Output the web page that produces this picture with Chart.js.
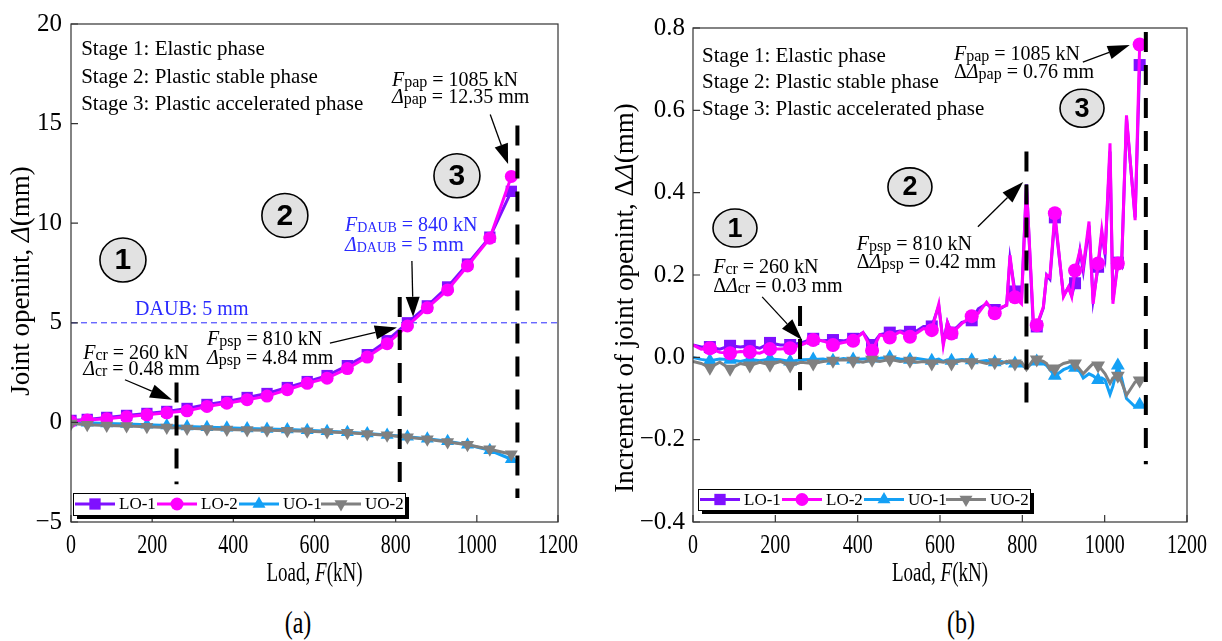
<!DOCTYPE html>
<html>
<head>
<meta charset="utf-8">
<script src="https://cdn.jsdelivr.net/npm/chart.js@4.4.0/dist/chart.umd.min.js"></script>
<style>
  body { margin: 0; background: #fff; width: 1222px; height: 641px; position: relative; overflow: hidden; font-family: "Liberation Serif", "Times New Roman", serif; }
  #boxA { position: absolute; left: 0; top: 0; width: 600px; height: 600px; }
  #boxB { position: absolute; left: 600px; top: 0; width: 622px; height: 600px; }
  .cap { position: absolute; top: 606px; font-size: 24px; width: 60px; text-align: center; transform: scaleY(1.3); transform-origin: top; }
</style>
</head>
<body>
<div id="boxA"><canvas id="chartA" width="600" height="600"></canvas></div>
<div id="boxB"><canvas id="chartB" width="622" height="600"></canvas></div>
<div class="cap" style="left:268px">(a)</div>
<div class="cap" style="left:931px">(b)</div>
<script>
const SERIF = "'Liberation Serif', 'Times New Roman', serif";
const SANS  = "'Liberation Sans', Arial, sans-serif";
const BLUE  = "#2a2aff";

// ---- (a) joint opening vs load ----
const loadA = [0, 40, 88, 137, 187, 236, 286, 335, 384, 434, 483, 533, 582, 631, 681, 730, 779, 829, 878, 928, 977, 1032, 1085];
const lo1A  = [0.1, 0.15, 0.25, 0.35, 0.45, 0.55, 0.7, 0.9, 1.05, 1.25, 1.45, 1.75, 2.05, 2.35, 2.85, 3.4, 4.1, 5.0, 5.85, 6.8, 7.95, 9.3, 11.6];
const lo2A  = [0.05, 0.12, 0.18, 0.28, 0.38, 0.48, 0.58, 0.8, 0.96, 1.14, 1.32, 1.64, 1.96, 2.22, 2.7, 3.28, 3.95, 4.84, 5.75, 6.65, 7.85, 9.25, 12.35];
const uo1A  = [0.0, -0.02, -0.05, -0.08, -0.12, -0.16, -0.2, -0.24, -0.27, -0.3, -0.33, -0.36, -0.4, -0.44, -0.5, -0.56, -0.63, -0.72, -0.82, -0.95, -1.12, -1.4, -1.85];
const uo2A  = [-0.05, -0.12, -0.15, -0.18, -0.22, -0.26, -0.3, -0.33, -0.36, -0.38, -0.4, -0.42, -0.45, -0.48, -0.52, -0.58, -0.65, -0.74, -0.85, -0.98, -1.12, -1.35, -1.6];
const DAUB = 5;

// ---- (b) increment of joint opening vs load ----
const loadB = [0, 20, 41, 65, 90, 115, 138, 162, 187, 212, 236, 262, 292, 316, 340, 365, 389, 413, 435, 454,
  478, 503, 527, 545, 560, 580, 597, 608, 618, 628, 653, 677, 693, 713, 733, 750, 762, 770, 782, 798,
  810, 827, 835, 851, 859, 867, 879, 900, 912, 920, 928, 940, 948, 962, 972, 984, 993, 1001, 1013, 1020,
  1032, 1041, 1053, 1074, 1085];
const lo1B = [0.03, 0.025, 0.025, 0.02, 0.028, 0.025, 0.028, 0.022, 0.035, 0.03, 0.03, 0.035, 0.045, 0.04, 0.042, 0.04, 0.045, 0.06, 0.03, 0.055,
  0.06, 0.064, 0.062, 0.065, 0.075, 0.075, 0.125, 0.035, 0.085, 0.06, 0.085, 0.09, 0.118, 0.13, 0.115, 0.12, 0.128, 0.24, 0.16, 0.14,
  0.42, 0.07, 0.075, 0.12, 0.2, 0.19, 0.34, 0.15, 0.17, 0.15, 0.18, 0.26, 0.21, 0.32, 0.14, 0.22, 0.3, 0.25, 0.5, 0.14,
  0.23, 0.22, 0.58, 0.34, 0.71];
const lo2B = [0.03, 0.02, 0.022, 0.012, 0.01, 0.014, 0.013, 0.01, 0.02, 0.02, 0.022, 0.03, 0.042, 0.04, 0.03, 0.036, 0.04, 0.06, 0.016, 0.055,
  0.048, 0.062, 0.05, 0.06, 0.07, 0.066, 0.13, 0.029, 0.085, 0.058, 0.082, 0.1, 0.107, 0.134, 0.107, 0.122, 0.126, 0.248, 0.146, 0.13,
  0.418, 0.082, 0.078, 0.122, 0.2, 0.195, 0.35, 0.147, 0.171, 0.147, 0.211, 0.26, 0.22, 0.33, 0.13, 0.228, 0.31, 0.25, 0.52, 0.13,
  0.228, 0.22, 0.588, 0.333, 0.76];
const uo1B = [0.0, -0.005, -0.008, -0.004, -0.006, -0.01, -0.005, -0.008, -0.004, -0.006, -0.01, -0.006, -0.005, -0.004, -0.008, -0.003, -0.005, -0.004, -0.003, -0.002,
  0.0, -0.004, -0.006, -0.003, -0.005, -0.008, -0.004, -0.01, -0.006, -0.008, -0.005, -0.007, -0.01, -0.008, -0.012, -0.01, -0.014, -0.012, -0.015, -0.02,
  -0.025, -0.012, -0.01, -0.015, -0.02, -0.03, -0.045, -0.03, -0.025, -0.02, -0.025, -0.035, -0.05, -0.04, -0.045, -0.055, -0.05, -0.055, -0.09, -0.07,
  -0.02, -0.05, -0.1, -0.12, -0.115];
const uo2B = [-0.01, -0.015, -0.025, -0.012, -0.028, -0.015, -0.02, -0.012, -0.018, -0.01, -0.02, -0.012, -0.015, -0.01, -0.008, -0.006, -0.008, -0.012, -0.006, -0.01,
  -0.005, -0.01, -0.008, -0.012, -0.01, -0.015, -0.01, -0.012, -0.01, -0.015, -0.008, -0.012, -0.01, -0.015, -0.012, -0.015, -0.01, -0.012, -0.015, -0.012,
  -0.03, -0.005, -0.005, -0.01, -0.015, -0.03, -0.027, -0.015, -0.012, -0.01, -0.015, -0.03, -0.04, -0.025, -0.015, -0.02, -0.03, -0.04, -0.063, -0.05,
  -0.045, -0.06, -0.092, -0.06, -0.056];
// loads where (b) carries a marker
const markB = [41, 90, 138, 187, 236, 292, 340, 389, 435, 478, 527, 580, 628, 677, 733, 782, 835, 879, 928, 984, 1032, 1085];

const seriesNames = ["LO-1", "LO-2", "UO-1", "UO-2"];

const xAxis  = { min: 0, max: 1200, step: 200 };
const yAxisA = { min: -5, max: 20, step: 5 };
const yAxisB = { min: -0.4, max: 0.8, step: 0.2 };

const LOOK = [
  { color: "#7f10ff", style: "rect",     rot: 0,   r: 8,   order: 3 },
  { color: "#ff00ff", style: "circle",   rot: 0,   r: 6.5, order: 1 },
  { color: "#14a0f5", style: "triangle", rot: 0,   r: 7.5, order: 2 },
  { color: "#808080", style: "triangle", rot: 180, r: 7.5, order: 0 },
];

function makeSets(load, cols, marks) {
  return cols.map((col, i) => {
    const s = LOOK[i];
    return {
      label: seriesNames[i],
      data: load.map((x, k) => ({ x, y: col[k] })),
      showLine: true,
      borderColor: s.color,
      backgroundColor: s.color,
      borderWidth: 3,
      tension: 0,
      order: s.order,
      pointStyle: s.style,
      pointRotation: s.rot,
      pointBorderWidth: 0,
      pointBackgroundColor: s.color,
      pointRadius: marks ? (ctx => marks.includes(ctx.raw.x) ? s.r + 0.5 : 0) : s.r,
    };
  });
}

// ---------- drawing helpers ----------
function fontOf(kind, size) {
  if (kind === "i") return `italic ${size}px ${SERIF}`;
  if (kind === "s") return `${Math.round(size * 0.8)}px ${SERIF}`;
  if (kind === "c") return `${Math.round(size * 0.7)}px ${SERIF}`;
  return `${size}px ${SERIF}`;
}
function richWidth(ctx, parts, size) {
  let w = 0;
  for (const [t, k] of parts) { ctx.font = fontOf(k, size); w += ctx.measureText(t).width; }
  return w;
}
// draws mixed-style text; sy stretches glyphs vertically around the baseline
function rich(ctx, x, y, parts, size, color, sy) {
  ctx.save();
  ctx.translate(x, y);
  if (sy) ctx.scale(1, sy);
  ctx.fillStyle = color || "#000";
  ctx.textBaseline = "alphabetic";
  ctx.textAlign = "left";
  let cx = 0;
  for (const [t, k] of parts) {
    ctx.font = fontOf(k, size);
    ctx.fillText(t, cx, (k === "s" || k === "c" ? 1 : 0));
    cx += ctx.measureText(t).width;
  }
  ctx.restore();
}
function arrow(ctx, x1, y1, x2, y2, head, half) {
  const a = Math.atan2(y2 - y1, x2 - x1);
  ctx.save();
  ctx.strokeStyle = "#000"; ctx.fillStyle = "#000"; ctx.lineWidth = 1.3;
  ctx.beginPath(); ctx.moveTo(x1, y1);
  ctx.lineTo(x2 - head * Math.cos(a), y2 - head * Math.sin(a)); ctx.stroke();
  ctx.translate(x2, y2); ctx.rotate(a);
  ctx.beginPath(); ctx.moveTo(0, 0); ctx.lineTo(-head, -half); ctx.lineTo(-head, half); ctx.closePath(); ctx.fill();
  ctx.restore();
}
function marker(ctx, style, x, y, r, rot) {
  ctx.beginPath();
  if (style === "circle") ctx.arc(x, y, r, 0, Math.PI * 2);
  else if (style === "rect") { const h = r * Math.SQRT1_2; ctx.rect(x - h, y - h, 2 * h, 2 * h); }
  else {
    const s = rot ? -1 : 1;
    ctx.moveTo(x, y - s * r); ctx.lineTo(x + r * 0.866, y + s * r * 0.5); ctx.lineTo(x - r * 0.866, y + s * r * 0.5); ctx.closePath();
  }
  ctx.fill();
}
function pix(chart) {
  const { x, y } = chart.scales;
  return (a, b) => [x.getPixelForValue(a), y.getPixelForValue(b)];
}
function vdash(chart, at, from, to) {
  const P = pix(chart), ctx = chart.ctx;
  const [x, y1] = P(at, from), [, y2] = P(at, to);
  ctx.save(); ctx.strokeStyle = "#000"; ctx.lineWidth = 4; ctx.setLineDash([20, 13]);
  ctx.beginPath(); ctx.moveTo(x, y1); ctx.lineTo(x, y2); ctx.stroke(); ctx.restore();
}
function circled(chart, at, val, txt, rx, ry, fs) {
  const [x, y] = pix(chart)(at, val), ctx = chart.ctx;
  ctx.save();
  ctx.beginPath(); ctx.ellipse(x, y, rx, ry, 0, 0, Math.PI * 2);
  ctx.fillStyle = "#e2e2e2"; ctx.fill();
  ctx.lineWidth = 1.6; ctx.strokeStyle = "#000"; ctx.stroke();
  ctx.fillStyle = "#000"; ctx.font = `bold ${fs}px ${SANS}`; ctx.textAlign = "center"; ctx.textBaseline = "middle";
  ctx.fillText(txt, x, y + 1);
  ctx.restore();
}
function label(chart, at, val, parts, size, color) {
  const [x, y] = pix(chart)(at, val);
  rich(chart.ctx, x, y, parts, size, color);
}
function pointer(chart, a1, v1, a2, v2, head, half) {
  const P = pix(chart);
  const [x1, y1] = P(a1, v1), [x2, y2] = P(a2, v2);
  arrow(chart.ctx, x1, y1, x2, y2, head, half);
}

// frame, inward ticks, x tick labels, axis titles and boxed legend
const framePlugin = {
  id: "frame",
  afterDraw(chart, args, opts) {
    const { ctx, chartArea: a, scales: { x, y } } = chart;
    ctx.save();
    ctx.strokeStyle = "#333"; ctx.lineWidth = 1.2;
    ctx.strokeRect(a.left, a.top, a.right - a.left, a.bottom - a.top);
    ctx.beginPath();
    y.ticks.forEach(t => { const p = y.getPixelForValue(t.value); ctx.moveTo(a.left, p); ctx.lineTo(a.left + 7, p); });
    x.ticks.forEach(t => { const p = x.getPixelForValue(t.value); ctx.moveTo(p, a.bottom); ctx.lineTo(p, a.bottom - 7); });
    ctx.stroke();
    ctx.restore();

    // x tick labels (tall, narrow glyphs like the source)
    x.ticks.forEach(t => {
      const parts = [[String(t.value), "n"]];
      const w = richWidth(ctx, parts, 20);
      rich(ctx, x.getPixelForValue(t.value) - w / 2, 553, parts, 20, "#000", 1.35);
    });

    // x title
    const xt = [["Load, ", "n"], ["F", "i"], ["(kN)", "n"]];
    const xw = richWidth(ctx, xt, 19);
    rich(ctx, (a.left + a.right) / 2 - xw / 2, 581, xt, 19, "#000", 1.45);

    // y title
    ctx.save();
    const yw = richWidth(ctx, opts.yTitle, 27);
    ctx.translate(opts.yTitleX, opts.yTitleY);
    ctx.rotate(-Math.PI / 2);
    rich(ctx, -yw / 2, 8, opts.yTitle, 27);
    ctx.restore();

    // legend
    const L = opts.legend;
    const lx = a.left + L.dx, ly = a.bottom - L.dy - L.h;
    ctx.save();
    ctx.fillStyle = "#000"; ctx.fillRect(lx + 4, ly + 4, L.w, L.h);
    ctx.fillStyle = "#fff"; ctx.fillRect(lx, ly, L.w, L.h);
    ctx.strokeStyle = "#000"; ctx.lineWidth = 1; ctx.strokeRect(lx + 0.5, ly + 0.5, L.w, L.h);
    const cy = ly + L.h / 2;
    seriesNames.forEach((name, i) => {
      const s = LOOK[i], sx = lx + 2 + i * 82;
      ctx.strokeStyle = s.color; ctx.fillStyle = s.color; ctx.lineWidth = 3;
      ctx.beginPath(); ctx.moveTo(sx, cy); ctx.lineTo(sx + 40, cy); ctx.stroke();
      marker(ctx, s.style, sx + 20, cy, s.r, s.rot);
      ctx.fillStyle = "#000"; ctx.font = `17px ${SERIF}`; ctx.textBaseline = "middle"; ctx.textAlign = "left";
      ctx.fillText(name, sx + 44, cy + 1);
    });
    ctx.restore();
  },
};

const notesA = {
  id: "notesA",
  beforeDatasetsDraw(chart) {
    const { ctx, chartArea: a, scales: { y } } = chart;
    const py = y.getPixelForValue(DAUB);
    ctx.save(); ctx.strokeStyle = BLUE; ctx.lineWidth = 1; ctx.setLineDash([6, 4]);
    ctx.beginPath(); ctx.moveTo(a.left, py); ctx.lineTo(a.right, py); ctx.stroke(); ctx.restore();
  },
  afterDatasetsDraw(chart) {
    vdash(chart, 260, 2.0, -3.1);
    vdash(chart, 810, 6.3, -3.1);
    vdash(chart, 1100, 14.9, -3.8);
    label(chart, 25, 18.44, [["Stage 1: Elastic phase", "n"]], 21);
    label(chart, 25, 17.05, [["Stage 2: Plastic stable phase", "n"]], 21);
    label(chart, 25, 15.66, [["Stage 3: Plastic accelerated phase", "n"]], 21);
    label(chart, 791, 16.9, [["F", "i"], ["pap", "s"], [" = 1085 kN", "n"]], 20);
    label(chart, 791, 16.05, [["Δ", "i"], ["pap", "s"], [" = 12.35 mm", "n"]], 20);
    pointer(chart, 1033, 15.46, 1077, 12.97, 20, 7);
    label(chart, 675, 9.59, [["F", "i"], ["DAUB", "c"], [" = 840 kN", "n"]], 20, BLUE);
    label(chart, 675, 8.6, [["Δ", "i"], ["DAUB", "c"], [" = 5 mm", "n"]], 20, BLUE);
    pointer(chart, 840, 8.1, 843, 5.3, 20, 7);
    label(chart, 158, 5.37, [["DAUB: 5 mm", "n"]], 20, BLUE);
    label(chart, 335, 3.88, [["F", "i"], ["psp", "s"], [" = 810 kN", "n"]], 20);
    label(chart, 335, 2.93, [["Δ", "i"], ["psp", "s"], [" = 4.84 mm", "n"]], 20);
    pointer(chart, 638, 3.98, 803, 4.77, 22, 7);
    label(chart, 30, 3.18, [["F", "i"], ["cr", "s"], [" = 260 kN", "n"]], 20);
    label(chart, 30, 2.39, [["Δ", "i"], ["cr", "s"], [" = 0.48 mm", "n"]], 20);
    pointer(chart, 133, 2.14, 249, 1.14, 22, 7);
    circled(chart, 128, 8.15, "1", 23, 22, 30);
    circled(chart, 527, 10.39, "2", 23, 22, 30);
    circled(chart, 951, 12.38, "3", 23, 22, 30);
  },
};

const notesB = {
  id: "notesB",
  afterDatasetsDraw(chart) {
    vdash(chart, 260, 0.125, -0.08);
    vdash(chart, 810, 0.5, -0.14);
    vdash(chart, 1100, 0.79, -0.26);
    label(chart, 22, 0.717, [["Stage 1: Elastic phase", "n"]], 21);
    label(chart, 22, 0.654, [["Stage 2: Plastic stable phase", "n"]], 21);
    label(chart, 22, 0.588, [["Stage 3: Plastic accelerated phase", "n"]], 21);
    label(chart, 634, 0.722, [["F", "i"], ["pap", "s"], [" = 1085 kN", "n"]], 20);
    label(chart, 634, 0.678, [["Δ", "n"], ["Δ", "i"], ["pap", "s"], [" = 0.76 mm", "n"]], 20);
    pointer(chart, 947, 0.717, 1061, 0.759, 22, 7);
    label(chart, 398, 0.261, [["F", "i"], ["psp", "s"], [" = 810 kN", "n"]], 20);
    label(chart, 398, 0.217, [["Δ", "n"], ["Δ", "i"], ["psp", "s"], [" = 0.42 mm", "n"]], 20);
    pointer(chart, 692, 0.317, 802, 0.426, 22, 7);
    label(chart, 49, 0.205, [["F", "i"], ["cr", "s"], [" = 260 kN", "n"]], 20);
    label(chart, 49, 0.159, [["Δ", "n"], ["Δ", "i"], ["cr", "s"], [" = 0.03 mm", "n"]], 20);
    pointer(chart, 168, 0.147, 265, 0.042, 22, 7);
    circled(chart, 102, 0.314, "1", 22, 19, 27);
    circled(chart, 527, 0.414, "2", 22, 19, 27);
    circled(chart, 945, 0.605, "3", 22, 19, 27);
  },
};

function minus(v, digits) {
  const s = digits ? Math.abs(v).toFixed(digits) : String(Math.abs(v));
  return v < -1e-9 ? "−" + s : s;
}

function makeChart(id, sets, yr, digits, geo, notes, frameOpts) {
  return new Chart(document.getElementById(id), {
    type: "scatter",
    data: { datasets: sets },
    options: {
      responsive: false,
      devicePixelRatio: 1,
      animation: false,
      events: [],
      layout: { padding: { top: geo.top, right: geo.right, left: 0, bottom: 0 } },
      plugins: { legend: { display: false }, tooltip: { enabled: false }, frame: frameOpts },
      scales: {
        x: {
          type: "linear", min: xAxis.min, max: xAxis.max,
          grid: { display: false, drawTicks: false }, border: { display: false },
          ticks: { stepSize: xAxis.step, display: false },
          afterFit: s => { s.height = 78; },
        },
        y: {
          type: "linear", min: yr.min, max: yr.max,
          grid: { display: false, drawTicks: false }, border: { display: false },
          ticks: { stepSize: yr.step, color: "#000", padding: geo.tickPad, font: { family: SERIF, size: 25 },
                   callback: v => minus(v, digits) },
          afterFit: s => { s.width = geo.yWidth; },
        },
      },
    },
    plugins: [notes, framePlugin],
  });
}

makeChart("chartA", makeSets(loadA, [lo1A, lo2A, uo1A, uo2A], null), yAxisA, 0,
  { top: 19, right: 42, yWidth: 71, tickPad: 9 }, notesA,
  { yTitle: [["Joint openint, ", "n"], ["Δ", "i"], ["(mm)", "n"]], yTitleX: 21, yTitleY: 281,
    legend: { dx: 2, dy: 7, w: 332, h: 22 } });

makeChart("chartB", makeSets(loadB, [lo1B, lo2B, uo1B, uo2B], markB), yAxisB, 1,
  { top: 28, right: 35, yWidth: 93, tickPad: 8 }, notesB,
  { yTitle: [["Increment of joint openint, Δ", "n"], ["Δ", "i"], ["(mm)", "n"]], yTitleX: 25, yTitleY: 298,
    legend: { dx: 5, dy: 12, w: 332, h: 21 } });
</script>
</body>
</html>
